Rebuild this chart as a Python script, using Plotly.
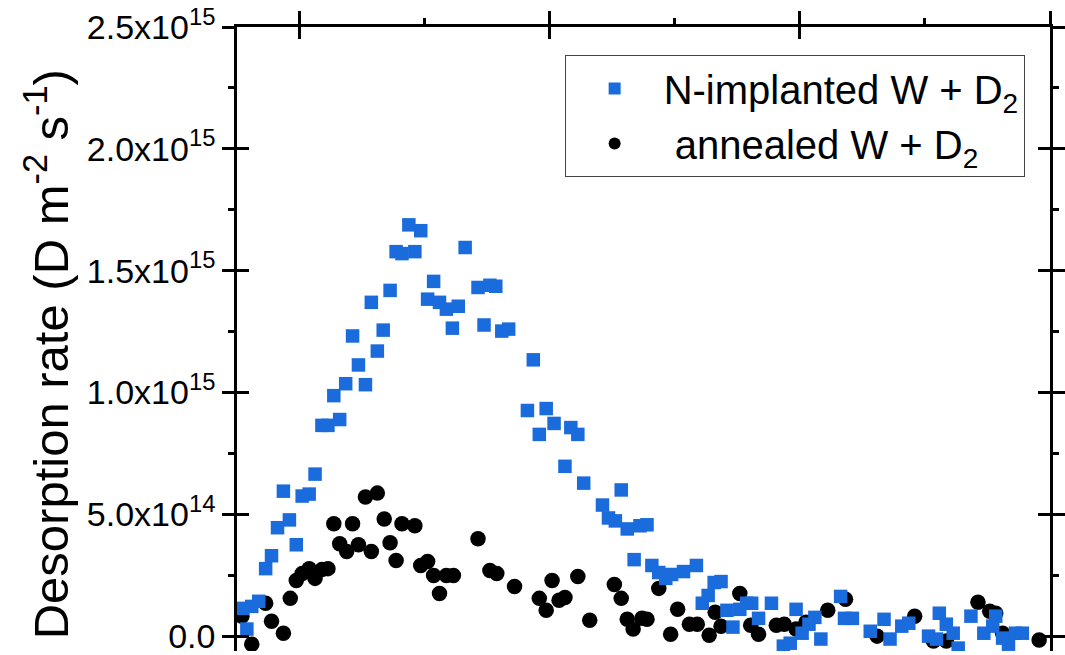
import plotly.graph_objects as go

# Temperature-like x values (arbitrary K scale) and desorption rate (units of 1e14 D m^-2 s^-1)
n_x = [354.7, 357.9, 361.8, 367.4, 372.9, 377.6, 382.4, 387.1, 391.9, 397.4,
       402.1, 407.7, 412.4, 417.9, 422.7, 427.4, 432.1, 436.9, 442.4, 447.1,
       452.7, 457.4, 462.2, 466.9, 472.4, 477.2, 481.9, 487.4, 492.2, 496.9,
       502.4, 507.2, 511.9, 517.4, 522.2, 526.9, 532.4, 542.7, 547.5, 552.2,
       556.9, 561.7, 567.2, 582.2, 586.9, 591.7, 597.2, 603.5, 612.2, 616.9,
       622.5, 627.2, 642.2, 647.0, 652.5, 657.2, 662.0, 667.5, 672.2, 677.8,
       681.7, 687.2, 692.8, 697.5, 707.0, 717.3, 722.0, 726.7, 731.5, 737.0,
       741.7, 746.5, 752.0, 757.5, 761.5, 767.0, 777.3, 786.8, 792.3, 797.0,
       801.8, 807.3, 812.0, 816.8, 832.6, 835.7, 842.0, 856.3, 867.3, 872.1,
       881.5, 887.1, 902.9, 909.2, 911.5, 917.1, 922.6, 926.6, 936.8, 947.1,
       954.2, 956.6, 962.1, 966.8, 972.4, 977.9]
n_y = [1.14, 0.29, 1.22, 1.43, 2.77, 3.30, 4.45, 5.95, 4.77, 3.75,
       5.75, 5.83, 6.65, 8.65, 8.65, 9.87, 8.89, 10.36, 12.32, 11.13,
       10.32, 13.70, 11.70, 12.56, 14.19, 15.78, 15.70, 16.88, 15.78, 16.64,
       13.83, 14.56, 13.70, 13.42, 12.64, 13.54, 15.95, 14.31, 12.77, 14.40,
       14.36, 12.52, 12.60, 9.26, 11.34, 8.28, 9.34, 8.73, 6.97, 8.56,
       8.28, 6.28, 5.38, 4.85, 4.73, 6.00, 4.40, 3.14, 4.53, 4.57,
       2.90, 2.61, 2.37, 2.53, 2.65, 2.90, 1.35, 1.67, 2.20, 2.24,
       1.06, 0.37, 1.10, 1.35, 1.35, 0.73, 1.35, -0.41, -0.29, 1.10,
       0.12, 0.49, 0.77, -0.12, 1.63, 0.73, 0.73, 0.20, 0.69, -0.12,
       0.41, 0.53, 0.00, -0.12, 0.94, 0.49, 0.12, -0.49, 0.82, 0.12,
       0.41, 0.82, -0.08, -0.33, 0.12, 0.12]

a_x = [353.9, 361.8, 372.9, 377.6, 387.1, 392.6, 397.4, 402.1, 407.7, 412.4,
       417.9, 422.7, 427.4, 432.1, 437.7, 442.4, 447.1, 452.7, 457.4, 462.2,
       467.7, 472.4, 477.2, 481.9, 492.2, 496.9, 502.4, 507.2, 511.9, 517.4,
       523.0, 542.7, 552.2, 557.7, 571.9, 591.7, 597.2, 601.9, 607.5, 612.2,
       622.5, 632.0, 651.7, 657.2, 662.0, 666.7, 673.8, 677.8, 687.2, 696.7,
       702.3, 711.7, 718.0, 727.5, 732.3, 737.0, 752.0, 760.7, 767.0, 781.2,
       787.5, 797.0, 804.9, 822.3, 836.5, 861.8, 891.8, 906.8, 917.1, 942.4,
       951.8, 956.6, 962.1, 991.3]
a_y = [0.82, -0.33, 1.35, 0.61, 0.12, 1.55, 2.28, 2.57, 2.77, 2.37,
       2.73, 2.77, 4.61, 3.79, 3.47, 4.61, 3.75, 5.71, 3.47, 5.87,
       4.81, 3.83, 3.10, 4.61, 4.53, 2.90, 3.06, 2.49, 1.75, 2.49,
       2.49, 4.00, 2.69, 2.57, 2.04, 1.55, 1.06, 2.28, 1.47, 1.59,
       2.45, 0.65, 2.12, 1.55, 0.69, 0.29, 0.73, 0.69, 1.96, 0.08,
       1.10, 0.49, 0.49, 0.04, 0.98, 0.41, 1.75, 0.45, 0.08, 0.45,
       0.49, 0.29, 0.57, 1.06, 1.51, 0.00, 0.82, -0.20, -0.20, 1.39,
       1.02, 0.94, 0.12, -0.16]

y_tickvals = [0, 5e14, 1e15, 1.5e15, 2e15, 2.5e15]
y_ticktext = ["0.0", "5.0x10<sup>14</sup>", "1.0x10<sup>15</sup>", "1.5x10<sup>15</sup>",
              "2.0x10<sup>15</sup>", "2.5x10<sup>15</sup>"]
x_tickvals = [400, 600, 800, 1000]

labels = ["N-implanted W + D<sub>2</sub>", "\u00a0annealed W + D<sub>2</sub>"]

FONT = "Arial, 'Liberation Sans', sans-serif"
X_RANGE = [350, 1000]
Y_RANGE = [-0.61e14, 2.5e15]
LW = 2.5

fig = go.Figure()
# N-implanted series on the overlay axes (x2/y2) so it is drawn above the circles
fig.add_trace(go.Scatter(
    x=n_x, y=[v * 1e14 for v in n_y], mode="markers", name=labels[0],
    xaxis="x2", yaxis="y2", legendgroup="n",
    marker=dict(symbol="square", size=13.5, color="#1A6BDC", line=dict(width=0)),
))
fig.add_trace(go.Scatter(
    x=a_x, y=[v * 1e14 for v in a_y], mode="markers", name=labels[1],
    xaxis="x", yaxis="y", legendgroup="a",
    marker=dict(symbol="circle", size=15.5, color="black", line=dict(width=0)),
))

axis_common = dict(showgrid=False, zeroline=False)

fig.update_layout(
    width=1065, height=655,
    margin=dict(l=237, r=5, t=27, b=0),
    paper_bgcolor="white", plot_bgcolor="white",
    font=dict(family=FONT, color="black"),
    showlegend=True,
    legend=dict(
        x=0.403, y=0.955, xanchor="left", yanchor="top",
        bordercolor="#444", borderwidth=1, bgcolor="white",
        font=dict(size=40, family=FONT, color="black"),
        itemsizing="constant", itemwidth=88, tracegroupgap=6,
        traceorder="normal",
    ),
    xaxis=dict(range=X_RANGE, side="top", anchor="y",
               showline=True, linewidth=LW, linecolor="black", mirror=False,
               tickmode="array", tickvals=x_tickvals, showticklabels=False,
               ticks="outside", ticklen=13, tickwidth=LW, tickcolor="black",
               minor=dict(ticks="outside", ticklen=6, tickwidth=LW, tickcolor="black",
                          tickmode="linear", tick0=0, dtick=100),
               **axis_common),
    xaxis2=dict(range=X_RANGE, overlaying="x", side="top", anchor="y2",
                showline=False, tickmode="array", tickvals=x_tickvals,
                showticklabels=False, ticks="inside", ticklen=12, tickwidth=LW,
                tickcolor="black", **axis_common),
    yaxis=dict(range=Y_RANGE, showline=True, linewidth=LW, linecolor="black",
               mirror="ticks", tickmode="array", tickvals=y_tickvals, ticktext=y_ticktext,
               ticks="outside", ticklen=12, tickwidth=LW, tickcolor="black",
               ticklabeloverflow="allow",
               tickfont=dict(size=34, family=FONT, color="black"),
               minor=dict(ticks="outside", ticklen=6, tickwidth=LW, tickcolor="black",
                          tickmode="linear", tick0=0, dtick=2.5e14),
               **axis_common),
    yaxis2=dict(range=Y_RANGE, overlaying="y", side="left", anchor="x2",
                showline=False, mirror="ticks", tickmode="array", tickvals=y_tickvals,
                showticklabels=False, ticks="inside", ticklen=12, tickwidth=LW,
                tickcolor="black", **axis_common),
    annotations=[dict(
        text="Desorption rate (D m<sup>-2</sup> s<sup>-1</sup>)",
        xref="paper", yref="paper", x=-0.2333, y=0.476,
        xanchor="center", yanchor="middle", textangle=-90, showarrow=False,
        font=dict(size=49, family=FONT, color="black"),
    )],
)

fig.write_html("out.html")
